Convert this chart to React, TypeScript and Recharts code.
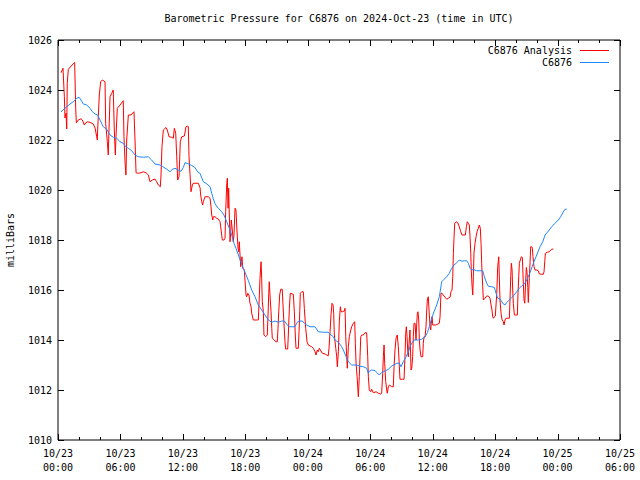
import { LineChart, Line, XAxis, YAxis, ReferenceArea, Legend } from "recharts";

// hours after 2024-10-23 00:00 UTC, pressure in mb
const analysis: [number, number][] = [
  [0.29, 1024.69], [0.48, 1024.87], [0.61, 1023.73], [0.67, 1022.88], [0.77, 1023.07], [0.84, 1022.44],
  [0.89, 1024.27], [0.99, 1024.83], [1.51, 1025.07], [1.6, 1025.1], [1.7, 1023.27], [1.76, 1022.69],
  [1.95, 1022.8], [2.21, 1022.85], [2.34, 1022.8], [2.53, 1022.6], [2.66, 1022.69], [2.85, 1022.73],
  [3.17, 1022.69], [3.39, 1022.64], [3.56, 1022.48], [3.72, 1022.13], [3.78, 1022.0], [3.81, 1022.4],
  [3.97, 1023.8], [4.1, 1024.33], [4.26, 1024.4], [4.52, 1024.33], [4.58, 1022.67], [4.74, 1021.93],
  [4.83, 1021.4], [4.9, 1022.4], [5.0, 1023.73], [5.16, 1023.87], [5.31, 1024.0], [5.41, 1022.4],
  [5.51, 1021.4], [5.57, 1022.13], [5.7, 1023.27], [5.96, 1023.4], [6.27, 1023.57], [6.34, 1022.13],
  [6.44, 1021.13], [6.53, 1020.6], [6.6, 1022.0], [6.76, 1023.0], [7.01, 1023.0], [7.3, 1023.13],
  [7.4, 1022.0], [7.5, 1020.69], [7.72, 1020.67], [7.98, 1020.69], [8.2, 1020.73], [8.46, 1020.69],
  [8.68, 1020.6], [8.84, 1020.33], [9.06, 1020.4], [9.32, 1020.44], [9.48, 1020.33], [9.64, 1020.2],
  [9.83, 1020.13], [9.9, 1020.6], [9.99, 1021.73], [10.12, 1022.4], [10.38, 1022.5], [10.5, 1022.4],
  [10.67, 1022.13], [10.93, 1022.11], [11.08, 1022.07], [11.18, 1022.47], [11.31, 1022.27], [11.41, 1021.33],
  [11.5, 1020.4], [11.63, 1020.53], [11.75, 1021.93], [11.89, 1022.13], [12.14, 1022.16], [12.3, 1022.53],
  [12.46, 1022.56], [12.52, 1022.53], [12.59, 1021.33], [12.68, 1020.67], [12.78, 1019.93], [12.91, 1020.2],
  [13.0, 1020.27], [13.48, 1020.27], [13.65, 1020.09], [13.71, 1019.8], [13.81, 1019.53], [13.9, 1019.4],
  [13.96, 1019.53], [14.13, 1019.73], [14.44, 1019.73], [14.61, 1019.67], [14.7, 1019.33], [14.77, 1019.0],
  [14.87, 1018.8], [14.92, 1018.93], [15.09, 1018.93], [15.25, 1018.87], [15.4, 1018.84], [15.57, 1018.73],
  [15.63, 1018.53], [15.73, 1018.2], [15.79, 1018.0], [15.95, 1018.0], [16.05, 1018.07], [16.11, 1019.13],
  [16.21, 1020.2], [16.27, 1020.47], [16.34, 1019.27], [16.4, 1020.07], [16.46, 1019.0], [16.53, 1017.93],
  [16.6, 1018.33], [16.65, 1018.8], [16.72, 1018.53], [16.79, 1018.2], [16.84, 1017.93], [16.91, 1018.2],
  [17.01, 1019.27], [17.1, 1019.2], [17.17, 1018.6], [17.23, 1018.13], [17.3, 1017.68], [17.36, 1017.53],
  [17.42, 1017.93], [17.49, 1017.4], [17.56, 1016.93], [17.61, 1017.13], [17.68, 1017.33], [17.75, 1016.87],
  [17.9, 1016.8], [18.0, 1016.2], [18.07, 1015.8], [18.13, 1015.73], [18.23, 1015.87], [18.35, 1015.8],
  [18.45, 1015.47], [18.55, 1015.33], [18.61, 1015.07], [18.77, 1014.8], [19.09, 1014.8], [19.25, 1014.8],
  [19.31, 1015.4], [19.41, 1016.47], [19.51, 1017.13], [19.57, 1016.47], [19.63, 1015.53], [19.73, 1015.13],
  [19.79, 1014.2], [19.96, 1014.13], [20.11, 1014.2], [20.18, 1015.0], [20.25, 1015.87], [20.3, 1016.33],
  [20.37, 1015.8], [20.47, 1015.13], [20.54, 1014.47], [20.59, 1014.07], [20.79, 1014.0], [20.92, 1013.93],
  [21.07, 1013.93], [21.14, 1014.47], [21.21, 1015.13], [21.3, 1015.8], [21.4, 1016.03], [21.55, 1016.03],
  [21.62, 1015.4], [21.72, 1014.6], [21.81, 1013.93], [21.88, 1013.64], [22.07, 1013.64], [22.13, 1014.2],
  [22.23, 1015.27], [22.32, 1015.87], [22.61, 1015.83], [22.71, 1015.13], [22.8, 1014.2], [22.87, 1013.67],
  [23.09, 1013.67], [23.16, 1014.33], [23.23, 1015.13], [23.28, 1015.87], [23.42, 1015.93], [23.57, 1015.93],
  [23.67, 1015.27], [23.8, 1014.47], [23.93, 1013.93], [24.05, 1013.8], [24.38, 1013.73], [24.53, 1013.67],
  [24.7, 1013.53], [24.79, 1013.4], [24.92, 1013.6], [25.01, 1013.53], [25.11, 1013.67], [25.27, 1013.56],
  [25.4, 1013.47], [25.66, 1013.44], [25.82, 1013.4], [25.97, 1013.37], [26.04, 1013.67], [26.14, 1014.33],
  [26.23, 1015.0], [26.33, 1015.47], [26.43, 1015.4], [26.49, 1015.07], [26.55, 1014.2], [26.69, 1013.67],
  [26.78, 1013.33], [26.84, 1012.93], [26.94, 1013.53], [27.03, 1014.73], [27.13, 1015.33], [27.2, 1015.13],
  [27.32, 1015.13], [27.51, 1015.16], [27.58, 1015.27], [27.65, 1014.13], [27.74, 1013.33], [27.8, 1012.87],
  [27.9, 1013.73], [27.99, 1014.13], [28.13, 1014.4], [28.22, 1014.53], [28.38, 1014.67], [28.51, 1014.73],
  [28.57, 1013.87], [28.64, 1013.07], [28.76, 1012.4], [28.86, 1011.73], [28.95, 1012.53], [29.02, 1013.33],
  [29.09, 1014.13], [29.18, 1014.2], [29.34, 1014.2], [29.5, 1014.29], [29.66, 1014.29], [29.76, 1013.33],
  [29.82, 1012.53], [29.91, 1012.0], [30.05, 1011.93], [30.14, 1012.03], [30.3, 1011.89], [30.56, 1011.93],
  [30.78, 1011.87], [31.01, 1011.84], [31.1, 1011.87], [31.2, 1012.67], [31.26, 1013.33], [31.33, 1013.8],
  [31.39, 1013.07], [31.49, 1012.33], [31.59, 1012.0], [31.64, 1011.87], [31.74, 1012.13], [31.84, 1012.2],
  [32.07, 1012.13], [32.22, 1012.13], [32.29, 1012.93], [32.38, 1013.6], [32.48, 1014.07], [32.6, 1014.2],
  [32.7, 1013.73], [32.8, 1012.93], [32.86, 1012.43], [33.12, 1012.43], [33.25, 1012.43], [33.34, 1013.33],
  [33.41, 1014.27], [33.47, 1014.53], [33.54, 1014.13], [33.6, 1013.6], [33.66, 1013.33], [33.73, 1013.87],
  [33.82, 1014.4], [33.92, 1012.8], [33.99, 1012.87], [34.08, 1013.33], [34.14, 1014.13], [34.21, 1014.67],
  [34.31, 1014.67], [34.4, 1014.0], [34.47, 1014.67], [34.53, 1015.07], [34.59, 1015.13], [34.66, 1014.8],
  [34.72, 1014.0], [34.79, 1013.6], [34.88, 1013.33], [35.04, 1013.33], [35.1, 1013.87], [35.17, 1014.13],
  [35.27, 1014.13], [35.36, 1014.53], [35.43, 1015.2], [35.49, 1015.6], [35.58, 1015.73], [35.65, 1015.2],
  [35.75, 1014.53], [35.81, 1014.4], [35.87, 1014.67], [35.94, 1014.93], [36.01, 1014.6], [36.13, 1014.6],
  [36.32, 1014.6], [36.64, 1014.67], [36.71, 1014.93], [36.8, 1015.87], [36.9, 1015.87], [37.02, 1015.8],
  [37.19, 1015.71], [37.35, 1015.63], [37.5, 1015.67], [37.67, 1015.71], [37.76, 1015.93], [37.86, 1016.0],
  [37.93, 1016.53], [37.99, 1017.47], [38.05, 1018.07], [38.12, 1018.67], [38.25, 1018.73], [38.41, 1018.69],
  [38.56, 1018.53], [38.7, 1018.33], [38.82, 1018.2], [39.01, 1018.2], [39.14, 1018.2], [39.24, 1018.53],
  [39.33, 1018.73], [39.43, 1018.67], [39.52, 1018.6], [39.59, 1018.13], [39.66, 1017.47], [39.71, 1016.8],
  [39.78, 1016.2], [39.85, 1015.8], [39.91, 1016.53], [39.97, 1017.47], [40.07, 1017.87], [40.17, 1018.13],
  [40.26, 1018.33], [40.39, 1018.47], [40.48, 1018.6], [40.58, 1018.47], [40.65, 1017.87], [40.71, 1017.07],
  [40.81, 1016.13], [40.87, 1015.6], [41.03, 1015.67], [41.19, 1015.76], [41.35, 1015.76], [41.51, 1015.67],
  [41.61, 1015.4], [41.7, 1015.2], [41.77, 1014.93], [41.83, 1014.87], [41.93, 1014.93], [42.02, 1014.96],
  [42.16, 1015.87], [42.25, 1016.93], [42.35, 1017.33], [42.41, 1016.4], [42.47, 1015.6], [42.57, 1015.07],
  [42.67, 1014.8], [42.79, 1014.73], [42.86, 1014.6], [42.95, 1014.8], [43.05, 1014.87], [43.27, 1014.87],
  [43.37, 1014.87], [43.43, 1015.6], [43.5, 1016.53], [43.56, 1017.07], [43.63, 1016.8], [43.69, 1016.0],
  [43.75, 1015.47], [43.85, 1015.0], [44.01, 1015.0], [44.14, 1015.0], [44.2, 1015.87], [44.27, 1016.53],
  [44.33, 1017.07], [44.42, 1017.2], [44.52, 1017.33], [44.62, 1017.3], [44.68, 1016.6], [44.78, 1015.6],
  [44.85, 1015.47], [44.94, 1016.4], [45.0, 1016.9], [45.07, 1016.7], [45.14, 1016.1], [45.19, 1015.5],
  [45.29, 1016.5], [45.36, 1017.13], [45.42, 1017.73], [45.52, 1017.73], [45.58, 1017.67], [45.64, 1017.33],
  [45.74, 1016.93], [45.84, 1016.8], [46.0, 1016.8], [46.15, 1016.77], [46.25, 1016.64], [46.48, 1016.63],
  [46.63, 1016.63], [46.7, 1016.73], [46.77, 1017.13], [46.83, 1017.47], [47.02, 1017.51], [47.21, 1017.53],
  [47.35, 1017.6], [47.44, 1017.63], [47.6, 1017.64],
];

const station: [number, number][] = [
  [0.29, 1023.13], [0.48, 1023.2], [0.84, 1023.33], [1.15, 1023.44], [1.47, 1023.53], [1.8, 1023.67],
  [2.02, 1023.71], [2.21, 1023.6], [2.43, 1023.44], [2.76, 1023.4], [3.08, 1023.27], [3.3, 1023.13],
  [3.56, 1023.04], [3.81, 1023.0], [4.04, 1022.8], [4.35, 1022.53], [4.68, 1022.43], [5.0, 1022.2],
  [5.31, 1022.11], [5.64, 1022.07], [5.96, 1021.93], [6.27, 1021.87], [6.51, 1021.73], [6.76, 1021.67],
  [7.08, 1021.57], [7.4, 1021.4], [7.72, 1021.33], [8.2, 1021.31], [8.68, 1021.33], [9.0, 1021.2],
  [9.32, 1021.04], [9.8, 1021.0], [10.02, 1020.95], [10.45, 1020.83], [10.76, 1020.73], [10.98, 1020.82],
  [11.24, 1020.87], [11.56, 1020.8], [11.82, 1020.75], [12.04, 1020.9], [12.2, 1021.09], [12.52, 1021.05],
  [12.85, 1020.98], [13.16, 1020.9], [13.42, 1020.73], [13.64, 1020.67], [13.96, 1020.33], [14.29, 1020.25],
  [14.61, 1020.13], [14.77, 1019.87], [14.92, 1019.65], [15.09, 1019.45], [15.4, 1019.27], [15.73, 1019.13],
  [15.95, 1019.0], [16.21, 1018.73], [16.46, 1018.47], [16.69, 1018.2], [16.91, 1017.87], [17.1, 1017.67],
  [17.33, 1017.4], [17.56, 1017.13], [17.81, 1016.87], [18.07, 1016.6], [18.29, 1016.38], [18.61, 1016.0],
  [18.93, 1015.73], [19.25, 1015.4], [19.57, 1015.2], [19.89, 1015.0], [20.21, 1014.8], [20.54, 1014.71],
  [20.85, 1014.76], [21.17, 1014.71], [21.5, 1014.76], [21.75, 1014.76], [21.98, 1014.63], [22.2, 1014.53],
  [22.77, 1014.53], [22.97, 1014.7], [23.16, 1014.76], [23.48, 1014.76], [23.67, 1014.67], [23.9, 1014.6],
  [24.22, 1014.53], [24.7, 1014.53], [25.01, 1014.33], [25.49, 1014.31], [25.97, 1014.31], [26.23, 1014.2],
  [26.46, 1014.13], [26.62, 1014.0], [26.94, 1013.91], [27.26, 1013.73], [27.42, 1013.6], [27.68, 1013.33],
  [27.9, 1013.13], [28.22, 1013.0], [28.7, 1013.0], [29.02, 1012.95], [29.34, 1012.93], [29.66, 1012.87],
  [29.82, 1012.67], [29.91, 1012.75], [30.14, 1012.8], [30.46, 1012.78], [30.63, 1012.7], [30.87, 1012.6],
  [31.1, 1012.7], [31.42, 1012.76], [31.74, 1012.83], [32.07, 1012.96], [32.55, 1013.07], [32.8, 1013.07],
  [32.96, 1012.93], [33.18, 1013.13], [33.44, 1013.33], [33.66, 1013.53], [33.82, 1013.73], [33.99, 1013.87],
  [34.21, 1014.0], [34.62, 1014.0], [34.95, 1014.03], [35.27, 1014.13], [35.49, 1014.29], [35.68, 1014.53],
  [35.91, 1014.87], [36.13, 1015.13], [36.39, 1015.4], [36.64, 1015.73], [36.87, 1016.33], [37.09, 1016.43],
  [37.35, 1016.53], [37.6, 1016.67], [37.83, 1016.87], [38.05, 1017.0], [38.31, 1017.09], [38.56, 1017.2],
  [38.82, 1017.15], [39.04, 1017.17], [39.27, 1017.17], [39.43, 1017.07], [39.59, 1016.87], [39.75, 1016.8],
  [39.91, 1016.82], [40.23, 1016.77], [40.55, 1016.77], [40.81, 1016.77], [40.97, 1016.53], [41.19, 1016.27],
  [41.35, 1016.15], [41.67, 1016.13], [41.93, 1016.1], [42.09, 1015.87], [42.25, 1015.67], [42.47, 1015.64],
  [42.79, 1015.44], [42.95, 1015.4], [43.11, 1015.5], [43.37, 1015.6], [43.6, 1015.7], [43.82, 1015.8],
  [44.07, 1015.93], [44.33, 1016.07], [44.56, 1016.17], [44.81, 1016.24], [45.04, 1016.4], [45.36, 1016.7],
  [45.67, 1017.07], [46.0, 1017.4], [46.32, 1017.73], [46.58, 1017.93], [46.8, 1018.2], [47.12, 1018.36],
  [47.44, 1018.53], [47.76, 1018.67], [48.07, 1018.8], [48.3, 1018.93], [48.56, 1019.13], [48.72, 1019.23],
  [48.88, 1019.23],
];

const xTicks = [0, 2, 4, 6, 8, 10, 12, 14, 16, 18, 20, 22, 24, 26, 28, 30, 32, 34, 36, 38, 40, 42, 44, 46, 48, 50, 52, 54];
const xMajor = [0, 6, 12, 18, 24, 30, 36, 42, 48, 54];
const xDates = ["10/23", "10/23", "10/23", "10/23", "10/24", "10/24", "10/24", "10/24", "10/25", "10/25"];
const xTimes = ["00:00", "06:00", "12:00", "18:00", "00:00", "06:00", "12:00", "18:00", "00:00", "06:00"];
const yTicks = [1010, 1012, 1014, 1016, 1018, 1020, 1022, 1024, 1026];

const MONO = '"DejaVu Sans Mono", monospace';
const TOP = 40;
const RIGHT = 620;
const RED = "#ff0000";
const BLUE = "#1e88ff";

const analysisData = analysis.map(([h, mb]) => ({ h, mb }));
const stationData = station.map(([h, mb]) => ({ h, mb }));

function XTick(props: any) {
  const { x, y, payload } = props;
  const idx = xMajor.indexOf(payload.value);
  const len = idx >= 0 ? 6 : 3;
  const px = Math.round(x) + 0.5;
  return (
    <g>
      <line x1={px} y1={y} x2={px} y2={y - len} stroke="#000" />
      <line x1={px} y1={TOP} x2={px} y2={TOP + len} stroke="#000" />
      {idx >= 0 && (
        <text x={x} y={y} textAnchor="middle" fontFamily={MONO} fontSize={10} fill="#000">
          <tspan x={x} dy={17}>{xDates[idx]}</tspan>
          <tspan x={x} dy={14}>{xTimes[idx]}</tspan>
        </text>
      )}
    </g>
  );
}

function YTick(props: any) {
  const { x, y, payload } = props;
  const py = Math.round(y) + 0.5;
  return (
    <g>
      <line x1={x} y1={py} x2={x + 6} y2={py} stroke="#000" />
      <line x1={RIGHT - 6} y1={py} x2={RIGHT} y2={py} stroke="#000" />
      <text x={x - 6} y={y} dy={4} textAnchor="end" fontFamily={MONO} fontSize={10} fill="#000">
        {payload.value}
      </text>
    </g>
  );
}

function LegendBox() {
  const rows = [
    { name: "C6876 Analysis", color: RED },
    { name: "C6876", color: BLUE },
  ];
  return (
    <div style={{ fontFamily: MONO, fontSize: 10 }}>
      {rows.map((r) => (
        <div key={r.name} style={{ display: "flex", justifyContent: "flex-end", alignItems: "center", height: 12 }}>
          <span>{r.name}</span>
          <span style={{ display: "inline-block", width: 29, height: 1, background: r.color, marginLeft: 8 }} />
        </div>
      ))}
    </div>
  );
}

export default function App() {
  return (
    <div style={{ position: "absolute", left: 0, top: 0, width: 640, height: 480, background: "#fff" }}>
      <div
        style={{
          position: "absolute", left: 0, top: 13, width: 678, textAlign: "center",
          fontFamily: MONO, fontSize: 10, lineHeight: "12px",
        }}
      >
        Barometric Pressure for C6876 on 2024-Oct-23 (time in UTC)
      </div>
      <div
        style={{
          position: "absolute", left: 10, top: 240, transform: "translate(-50%, -50%) rotate(-90deg)",
          fontFamily: MONO, fontSize: 10, whiteSpace: "nowrap",
        }}
      >
        milliBars
      </div>
      <LineChart width={640} height={480} margin={{ top: 40, right: 20, bottom: 0, left: 0 }}>
        <XAxis
          dataKey="h"
          type="number"
          domain={[0, 54]}
          ticks={xTicks}
          interval={0}
          height={40}
          tickSize={0}
          tickMargin={0}
          axisLine={false}
          tickLine={false}
          tick={<XTick />}
          allowDataOverflow
        />
        <YAxis
          type="number"
          domain={[1010, 1026]}
          ticks={yTicks}
          interval={0}
          width={58}
          tickSize={0}
          tickMargin={0}
          axisLine={false}
          tickLine={false}
          tick={<YTick />}
          allowDataOverflow
        />
        <ReferenceArea
          x1={0}
          x2={54}
          y1={1010}
          y2={1026}
          fill="none"
          stroke="#000"
          strokeWidth={1}
          ifOverflow="visible"
        />
        <Line
          data={analysisData}
          dataKey="mb"
          name="C6876 Analysis"
          type="linear"
          stroke={RED}
          strokeWidth={1}
          dot={false}
          isAnimationActive={false}
        />
        <Line
          data={stationData}
          dataKey="mb"
          name="C6876"
          type="linear"
          stroke={BLUE}
          strokeWidth={1}
          dot={false}
          isAnimationActive={false}
        />
        <Legend
          layout="vertical"
          align="center"
          verticalAlign="middle"
          wrapperStyle={{ top: 44, right: 31, left: "auto", width: "auto" }}
          content={() => <LegendBox />}
        />
      </LineChart>
    </div>
  );
}
